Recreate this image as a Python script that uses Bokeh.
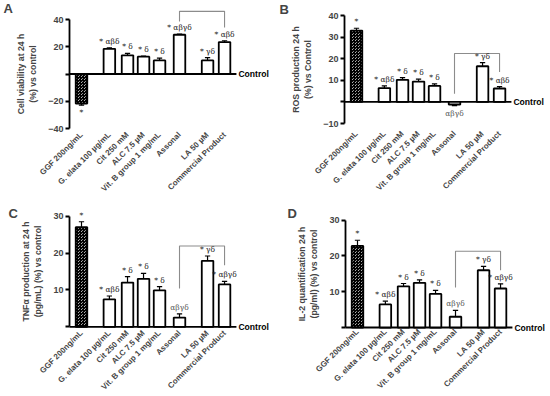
import numpy as np
from math import pi
from bokeh.plotting import figure
from bokeh.layouts import row, column
from bokeh.models import Range1d, FixedTicker
from bokeh.core.properties import value
from bokeh.embed import file_html
from bokeh.resources import INLINE

# ---------------- data ----------------
categories = ["GGF 200ng/mL", "G. elata 100 µg/mL", "Cit 250 mM", "ALC 7.5 µM",
              "Vit. B group 1 mg/mL", "Assonal", "LA 50 µM", "Commercial Product"]

viability = [-21.7, 18.5, 13.7, 12.7, 10.0, 28.8, 10.0, 23.4]
viability_err = [1.2, 0.7, 1.4, 0.5, 1.7, 0.5, 2.0, 1.0]
viability_sig = ["*", "* αβδ", "* δ", "* δ", "* δ", "* αβγδ", "* γδ", "* αβδ"]

ros = [33.0, 6.4, 10.2, 9.4, 7.4, -1.2, 16.5, 6.2]
ros_err = [1.1, 1.0, 1.0, 1.1, 0.9, 0.5, 1.7, 0.9]
ros_sig = ["*", "* αβδ", "* δ", "* δ", "* δ", "αβγδ", "* γδ", "* αβδ"]

tnf = [27.0, 7.45, 12.0, 13.0, 9.9, 2.5, 17.9, 11.5]
tnf_err = [1.5, 0.9, 1.6, 1.5, 1.0, 1.0, 1.3, 0.8]
tnf_sig = ["*", "* αβδ", "* δ", "* δ", "* δ", "αβγδ", "* γδ", "* αβγδ"]

il2 = [22.8, 6.45, 11.5, 12.5, 9.4, 3.0, 16.0, 10.9]
il2_err = [1.6, 0.9, 0.8, 0.8, 1.0, 1.8, 1.1, 1.3]
il2_sig = ["*", "* αβδ", "* δ", "* δ", "* δ", "αβγδ", "* γδ", "* αβγδ"]

# bracket between Assonal and Commercial Product: (top, left leg end, right leg end)
bracket_A = [46.0, 38.5, 34.2]
bracket_B = [22.4, 3.8, 13.8]
bracket_C = [21.9, 10.4, 16.7]
bracket_D = [21.3, 11.2, 16.0]

ticks_A = [-40, -20, 0, 20, 40]
ticks_B = [-10, 0, 10, 20, 30, 40]
ticks_C = [0, 10, 20, 30]
ticks_D = [0, 10, 20, 30]

# ---------------- layout ----------------
slot_pos = [0, 1.69, 2.79, 3.76, 4.73, 5.94, 7.64, 8.67]
W, H = 274, 197
PX = 16.5          # pixels per x unit
X0 = -0.727        # where the y axis stands
BAR_W = 0.7
CTRL_END = 9.39
T = 4              # frame top (px)
FONT = "Liberation Sans"
SIG_FONT = "DejaVu Serif"


def make_panel(letter, ytitle, vals, errs, sigs, bracket, yticks, ybounds,
               L, top_px, bot_px, standoff, letter_px):
    # L: pixel column of the y axis; top_px / bot_px: pixel rows of its two ends
    ylo, ytop = ybounds
    scale = (bot_px - top_px) / (ytop - ylo)
    yhi = ytop + (top_px - T) / scale
    yr0 = ylo - (H - bot_px) / scale
    xr0 = X0 - L / PX
    xr1 = X0 + (W - L) / PX
    p = figure(width=W, height=H, output_backend="svg", toolbar_location=None,
               x_range=Range1d(xr0, xr1), y_range=Range1d(yr0, yhi),
               min_border_left=0, min_border_right=0, min_border_top=T,
               min_border_bottom=0, title=letter)
    p.outline_line_color = None
    p.grid.visible = False
    p.background_fill_color = "white"

    # panel letter (title pulled down into the top-left corner)
    p.title.align = "left"
    p.title.offset = letter_px[0]
    p.title.standoff = -2 * (letter_px[1] + 7.5)
    p.title.text_font = FONT
    p.title.text_font_style = "bold"
    p.title.text_font_size = "13px"

    xs = [float(x) for x in slot_pos]
    v = np.array(vals, dtype=float)
    e = np.array(errs, dtype=float)
    sign = np.where(v < 0, -1.0, 1.0)
    ye = (v + sign * e).tolist()
    xa_ = np.array(xs)

    # control line
    p.segment(x0=[X0], y0=[0], x1=[CTRL_END], y1=[0], line_color="black", line_width=1.8)
    p.text(x=[CTRL_END + 0.12], y=[0], text=["Control"], text_baseline="middle",
           text_align="left", text_font=value(FONT), text_font_style="bold",
           text_font_size="8.6px", text_color="black")

    # bars
    p.vbar(x=xs[1:], top=list(vals[1:]), bottom=0, width=BAR_W, fill_color="white",
           line_color="black", line_width=1.8)
    p.vbar(x=xs[:1], top=list(vals[:1]), bottom=0, width=BAR_W, fill_color="white",
           hatch_pattern="criss_cross", hatch_color="black", hatch_scale=3,
           hatch_weight=1.2, line_color="black", line_width=1.8)

    # error bars
    p.segment(x0=xs, y0=list(vals), x1=xs, y1=ye, line_color="black", line_width=1.2)
    p.segment(x0=(xa_ - 0.16).tolist(), y0=ye, x1=(xa_ + 0.16).tolist(), y1=ye,
              line_color="black", line_width=1.2)

    # bracket
    p.line(x=[xs[5], xs[5], xs[7], xs[7]], y=[bracket[1], bracket[0], bracket[0], bracket[2]],
           line_color="#8c8c8c", line_width=1.1)

    # significance labels
    for i, s in enumerate(sigs):
        col = "#1a1a1a" if s.startswith("*") else "#555555"
        if vals[i] >= 0:
            p.text(x=[xs[i]], y=[ye[i]], text=[s], text_align="center", text_baseline="bottom",
                   y_offset=-2, text_font=value(SIG_FONT), text_font_size="7.5px",
                   text_color=col)
        else:
            p.text(x=[xs[i]], y=[ye[i]], text=[s], text_align="center", text_baseline="top",
                   y_offset=3, text_font=value(SIG_FONT), text_font_size="7.5px",
                   text_color=col)

    # y axis, standing at X0
    ya = p.yaxis[0]
    ya.fixed_location = X0
    ya.ticker = FixedTicker(ticks=yticks)
    ya.bounds = (ylo, ytop)
    ya.major_label_overrides = {0: ""}
    ya.minor_tick_line_color = None
    ya.major_tick_out = 4
    ya.major_tick_in = 0
    ya.axis_line_width = 1.8
    ya.major_tick_line_width = 1.8
    ya.major_label_text_font = FONT
    ya.major_label_text_font_style = "bold"
    ya.major_label_text_font_size = "9px"
    ya.major_label_standoff = 2
    ya.axis_label = ytitle
    ya.axis_label_text_font = FONT
    ya.axis_label_text_font_style = "bold"
    ya.axis_label_text_font_size = "8.7px"
    ya.axis_label_standoff = 7

    # x axis: category labels hang below the lowest value of the y axis
    xa = p.xaxis[0]
    xa.fixed_location = ylo
    xa.ticker = FixedTicker(ticks=xs)
    xa.major_label_overrides = {x: c for x, c in zip(xs, categories)}
    xa.major_label_orientation = pi / 4
    xa.axis_line_color = None
    xa.major_tick_line_color = None
    xa.minor_tick_line_color = None
    xa.major_tick_out = 0
    xa.major_tick_in = 0
    xa.major_label_standoff = standoff
    xa.major_label_text_font = FONT
    xa.major_label_text_font_style = "bold"
    xa.major_label_text_font_size = "8px"
    return p


pA = make_panel("A", "Cell viability at 24 h\n(%) vs control", viability, viability_err,
                viability_sig, bracket_A, ticks_A, (-40, 40), 69, 19, 128, 5, (3, 4))
pB = make_panel("B", "ROS production 24 h\n(%) vs Control", ros, ros_err, ros_sig,
                bracket_B, ticks_B, (-10, 40), 70, 15, 123, 9, (5, 5))
pC = make_panel("C", "TNFα production at 24 h\n(pg/mL) (%) vs control", tnf, tnf_err, tnf_sig,
                bracket_C, ticks_C, (0, 30), 69, 18.7, 129.3, 5, (8, 12))
pD = make_panel("D", "IL-2 quantification 24 h\n(pg/ml) (%) vs control", il2, il2_err, il2_sig,
                bracket_D, ticks_D, (0, 30), 71, 22.7, 130, 3, (13, 12))

layout = column(row(pA, pB), row(pC, pD))
open("out.html", "w").write(file_html(layout, INLINE))
